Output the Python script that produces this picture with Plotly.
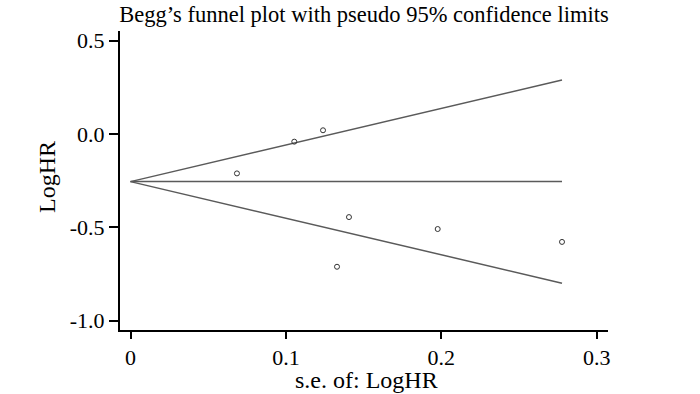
import plotly.graph_objects as go

# Study data (standard error, log hazard ratio)
se_values = [0.0685, 0.1054, 0.1239, 0.1406, 0.1329, 0.1977, 0.2777]
loghr_values = [-0.211, -0.041, 0.020, -0.445, -0.711, -0.509, -0.578]

# Pooled estimate line and pseudo 95% confidence limits (endpoints)
ci_se = [0.0, 0.2777]
pooled_line = [-0.255, -0.255]
upper_limit = [-0.255, 0.289]
lower_limit = [-0.255, -0.799]

x_tick_vals = [0, 0.1, 0.2, 0.3]
x_tick_text = ["0", "0.1", "0.2", "0.3"]
y_tick_vals = [0.5, 0.0, -0.5, -1.0]
y_tick_text = ["0.5", "0.0", "-0.5", "-1.0"]

FONT = "Liberation Serif, Times New Roman, serif"
LINE_COLOR = "#5a5a5a"

W, H = 700, 394
L, R, T, B = 120, 92, 31, 64
PW, PH = W - L - R, H - T - B

fig = go.Figure()
for ys in (upper_limit, pooled_line, lower_limit):
    fig.add_trace(go.Scatter(x=ci_se, y=ys, mode="lines",
                             line=dict(color=LINE_COLOR, width=1.5),
                             showlegend=False, hoverinfo="skip"))
fig.add_trace(go.Scatter(x=se_values, y=loghr_values, mode="markers",
                         marker=dict(symbol="circle-open", size=5,
                                     color="#333333", line=dict(width=1)),
                         showlegend=False))

fig.update_layout(
    width=W, height=H,
    margin=dict(l=L, r=R, t=T, b=B),
    paper_bgcolor="white", plot_bgcolor="white",
    font=dict(family=FONT, size=22, color="black"),
    title=dict(text="Begg’s funnel plot with pseudo 95% confidence limits",
               x=0.5, xref="paper", xanchor="center",
               y=1 - 14 / H, yref="container", yanchor="middle",
               font=dict(family=FONT, size=22.5, color="black")),
    xaxis=dict(range=[-0.00676, 0.3073], tickvals=x_tick_vals, ticktext=x_tick_text,
               showline=True, linecolor="black", linewidth=2,
               ticks="outside", ticklen=7, tickwidth=2, tickcolor="black",
               showgrid=False, zeroline=False,
               tickfont=dict(family=FONT, size=22, color="black")),
    yaxis=dict(range=[-1.0498, 0.5517], tickvals=y_tick_vals, ticktext=y_tick_text,
               showline=True, linecolor="black", linewidth=2,
               ticks="outside", ticklen=9, tickwidth=2, tickcolor="black",
               showgrid=False, zeroline=False,
               tickfont=dict(family=FONT, size=22, color="black")),
    annotations=[
        dict(text="LogHR", xref="paper", yref="paper",
             x=(47 - L) / PW, y=(H - B - 177) / PH,
             xanchor="center", yanchor="middle", textangle=-90, showarrow=False,
             font=dict(family=FONT, size=24, color="black")),
        dict(text="s.e. of: LogHR", xref="paper", yref="paper",
             x=(366 - L) / PW, y=(H - B - 380) / PH,
             xanchor="center", yanchor="middle", showarrow=False,
             font=dict(family=FONT, size=24, color="black")),
    ],
)

fig.write_html("out.html", config={"displayModeBar": False},
               post_script="document.body.style.margin='0';")
